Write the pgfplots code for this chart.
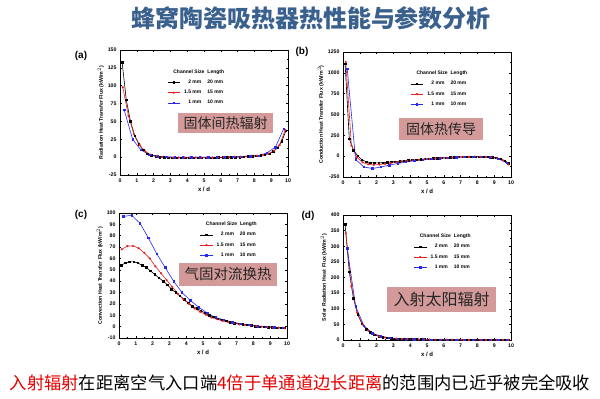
\documentclass[border=0pt]{standalone}
\usepackage{fontspec}
\setmainfont{Liberation Sans}
\newfontfamily\cjk{Noto Sans CJK SC}
\usepackage{pgfplots}
\pgfplotsset{compat=1.18}
\definecolor{titleblue}{RGB}{58,96,142}
\definecolor{boxpink}{RGB}{212,154,154}
\definecolor{sred}{RGB}{235,30,30}
\definecolor{sblue}{RGB}{40,40,245}
\definecolor{txtred}{RGB}{230,0,0}
\pgfplotsset{
  panel/.style={
    scale only axis, width=168pt, height=125pt,
    xmin=0, xmax=10, xtick={0,...,10},
    minor x tick num=1, minor y tick num=1,
    tick align=inside, major tick length=2.2pt, minor tick length=1.2pt,
    axis line style={line width=0.7pt},
    every tick/.style={black, line width=0.5pt},
    tick label style={font=\fontsize{5.2}{6}\selectfont\bfseries},
    /pgf/number format/assume math mode=true,
    /pgf/number format/1000 sep={},
    xlabel={x / d},
    xlabel style={font=\fontsize{6}{6}\selectfont\bfseries, yshift=2pt},
    ylabel style={font=\fontsize{5.2}{5.5}\selectfont\bfseries, yshift=-3pt},
    legend style={draw=none, fill=none, anchor=north west,
      font=\fontsize{5}{5.5}\selectfont\bfseries, row sep=1.2pt, inner sep=0pt},
    legend cell align=left,
    legend image code/.code={\draw[mark repeat=2,mark phase=2] plot coordinates {(0cm,0cm)(0.22cm,0cm)(0.44cm,0cm)};},
  },
  sb/.style={black, line width=0.6pt, mark=square*, mark size=0.75pt},
  sr/.style={sred, line width=0.6pt, mark=*, mark size=0.75pt},
  su/.style={sblue, line width=0.6pt, mark=square*, mark size=0.75pt},
}
\newcommand{\hdr}{\addlegendimage{empty legend}\addlegendentry{\hspace{-9pt}Channel Size\hspace{3pt}Length}}
\newcommand{\ent}[2]{\makebox[19pt][r]{#1}\hspace{6pt}#2}
\begin{document}
\begin{tikzpicture}
\path[use as bounding box] (0,0) rectangle (600pt,-399pt);
\node[font=\cjk\bfseries\fontsize{24}{24}\selectfont, text=titleblue] at (311pt,-18pt) {蜂窝陶瓷吸热器热性能与参数分析};

% (a)
\begin{axis}[panel, at={(120pt,-50pt)}, anchor=north west,
  ymin=-25, ymax=150, ytick={-25,0,...,150},
  ylabel={Radiation Heat Transfer Flux (kW/m$^2$)},
  legend style={at={(0.28,0.86)}}]
\hdr
\addplot[sb] coordinates {(0.125,133)(0.375,80)(0.625,50)(0.875,30)(1.125,18)(1.375,10)(1.625,5)(1.875,2.5)(2.125,1)(2.375,0)(2.625,-0.5)(2.875,-1)(3.125,-1)(3.375,-1)(3.625,-1)(3.875,-1)(4.125,-1)(4.375,-1)(4.625,-1)(4.875,-1)(5.125,-1)(5.375,-1)(5.625,-1)(5.875,-0.5)(6.125,-0.5)(6.375,-0.5)(6.625,0)(6.875,0)(7.125,0)(7.375,0.5)(7.625,1)(7.875,1.5)(8.125,2)(8.375,2.5)(8.625,3.5)(8.875,5)(9.125,8)(9.375,13)(9.625,22)(9.875,37)};
\addlegendentry{\ent{2 mm}{20 mm}}
\addplot[sr] coordinates {(0.167,98)(0.5,58)(0.833,32)(1.167,17)(1.5,8)(1.833,3.5)(2.167,1.5)(2.5,0.5)(2.833,0)(3.167,-0.5)(3.5,-0.5)(3.833,-0.5)(4.167,-0.5)(4.5,-0.5)(4.833,-0.5)(5.167,-0.5)(5.5,-0.5)(5.833,-0.5)(6.167,0)(6.5,0)(6.833,0.5)(7.167,0.5)(7.5,1)(7.833,1.5)(8.167,2)(8.5,3)(8.833,5)(9.167,9)(9.5,17)(9.833,38)};
\addlegendentry{\ent{1.5 mm}{15 mm}}
\addplot[su] coordinates {(0.25,66)(0.75,25)(1.25,10)(1.75,3.5)(2.25,1)(2.75,0.5)(3.25,0)(3.75,0)(4.25,0)(4.75,0)(5.25,0)(5.75,0)(6.25,0)(6.75,0.5)(7.25,0.5)(7.75,1)(8.25,2)(8.75,6)(9.25,14)(9.75,40)};
\addlegendentry{\ent{1 mm}{10 mm}}
\end{axis}

% (b)
\begin{axis}[panel, at={(343pt,-52pt)}, anchor=north west,
  ymin=-250, ymax=1250, ytick={-250,0,...,1250},
  ylabel={Conduction Heat Transfer Flux (kW/m$^2$)},
  legend style={at={(0.40,0.865)}}]
\hdr
\addplot[sb] coordinates {(0.125,1110)(0.375,210)(0.625,70)(0.875,5)(1.125,-45)(1.375,-65)(1.625,-78)(1.875,-82)(2.125,-80)(2.375,-78)(2.625,-74)(2.875,-70)(3.125,-65)(3.375,-60)(3.625,-55)(3.875,-50)(4.125,-46)(4.375,-42)(4.625,-38)(4.875,-34)(5.125,-30)(5.375,-27)(5.625,-24)(5.875,-21)(6.125,-18)(6.375,-15)(6.625,-12)(6.875,-10)(7.125,-8)(7.375,-7)(7.625,-6)(7.875,-6)(8.125,-6)(8.375,-7)(8.625,-9)(8.875,-13)(9.125,-20)(9.375,-32)(9.625,-55)(9.875,-85)};
\addlegendentry{\ent{2 mm}{20 mm}}
\addplot[sr] coordinates {(0.167,1130)(0.5,130)(0.833,-15)(1.167,-75)(1.5,-98)(1.833,-105)(2.167,-100)(2.5,-92)(2.833,-83)(3.167,-74)(3.5,-65)(3.833,-57)(4.167,-50)(4.5,-44)(4.833,-38)(5.167,-33)(5.5,-28)(5.833,-23)(6.167,-19)(6.5,-15)(6.833,-12)(7.167,-9)(7.5,-8)(7.833,-7)(8.167,-7)(8.5,-9)(8.833,-14)(9.167,-25)(9.5,-48)(9.833,-100)};
\addlegendentry{\ent{1.5 mm}{15 mm}}
\addplot[su] coordinates {(0.25,1050)(0.75,-40)(1.25,-130)(1.75,-148)(2.25,-130)(2.75,-108)(3.25,-88)(3.75,-70)(4.25,-55)(4.75,-44)(5.25,-34)(5.75,-26)(6.25,-19)(6.75,-13)(7.25,-9)(7.75,-7)(8.25,-7)(8.75,-12)(9.25,-30)(9.75,-80)};
\addlegendentry{\ent{1 mm}{10 mm}}
\end{axis}

% (c)
\begin{axis}[panel, at={(119pt,-213pt)}, anchor=north west,
  ymin=-10, ymax=100, ytick={-10,0,...,100}, minor y tick num=0,
  ylabel={Convection Heat Transfer Flux (kW/m$^2$)},
  legend style={at={(0.48,0.945)}}]
\hdr
\addplot[sb] coordinates {(0.125,54)(0.375,56)(0.625,57)(0.875,57)(1.125,56)(1.375,54)(1.625,52)(1.875,49)(2.125,46)(2.375,43)(2.625,40)(2.875,37)(3.125,33)(3.375,30)(3.625,27)(3.875,24)(4.125,21)(4.375,18)(4.625,16)(4.875,14)(5.125,12)(5.375,10)(5.625,8.5)(5.875,7)(6.125,6)(6.375,5)(6.625,4)(6.875,3)(7.125,2.5)(7.375,2)(7.625,1.5)(7.875,1)(8.125,0.5)(8.375,0)(8.625,0)(8.875,-0.5)(9.125,-0.5)(9.375,-1)(9.625,-1)(9.875,-1)};
\addlegendentry{\ent{2 mm}{20 mm}}
\addplot[sr] coordinates {(0.167,68)(0.5,71)(0.833,71)(1.167,69)(1.5,65)(1.833,60)(2.167,53)(2.5,47)(2.833,41)(3.167,35)(3.5,29)(3.833,24)(4.167,20)(4.5,16)(4.833,13)(5.167,10.5)(5.5,8)(5.833,6.5)(6.167,5)(6.5,4)(6.833,3)(7.167,2)(7.5,1.5)(7.833,1)(8.167,0.5)(8.5,0)(8.833,-0.5)(9.167,-1)(9.5,-1)(9.833,-1.5)};
\addlegendentry{\ent{1.5 mm}{15 mm}}
\addplot[su] coordinates {(0.25,97)(0.75,98)(1.25,91)(1.75,78)(2.25,64)(2.75,52)(3.25,40)(3.75,30)(4.25,23)(4.75,17)(5.25,12)(5.75,8)(6.25,6)(6.75,4)(7.25,2.5)(7.75,1.5)(8.25,0.5)(8.75,0)(9.25,-0.5)(9.75,-1)};
\addlegendentry{\ent{1 mm}{10 mm}}
\end{axis}

% (d)
\begin{axis}[panel, at={(343pt,-215pt)}, anchor=north west,
  ymin=0, ymax=400, ytick={0,50,...,400},
  ylabel={Solar Radiation Heat \ Flux (kW/m$^2$)},
  legend style={at={(0.42,0.865)}}]
\hdr
\addplot[sb] coordinates {(0.125,370)(0.375,218)(0.625,133)(0.875,82)(1.125,52)(1.375,35)(1.625,25)(1.875,17)(2.125,12)(2.375,9)(2.625,7)(2.875,5.5)(3.125,4.5)(3.375,3.5)(3.625,3)(3.875,2.5)(4.125,2)(4.375,2)(4.625,1.5)(4.875,1.5)(5.125,1)(5.375,1)(5.625,1)(5.875,1)(6.125,1)(6.375,0.5)(6.625,0.5)(6.875,0.5)(7.125,0.5)(7.375,0.5)(7.625,0.5)(7.875,0.5)(8.125,0.5)(8.375,0.5)(8.625,0.5)(8.875,0.5)(9.125,0.5)(9.375,0.5)(9.625,0.5)(9.875,0.5)};
\addlegendentry{\ent{2 mm}{20 mm}}
\addplot[sr] coordinates {(0.167,342)(0.5,172)(0.833,88)(1.167,50)(1.5,30)(1.833,19)(2.167,12)(2.5,8)(2.833,6)(3.167,4.5)(3.5,3.5)(3.833,3)(4.167,2.5)(4.5,2)(4.833,1.5)(5.167,1.5)(5.5,1)(5.833,1)(6.167,1)(6.5,1)(6.833,0.5)(7.167,0.5)(7.5,0.5)(7.833,0.5)(8.167,0.5)(8.5,0.5)(8.833,0.5)(9.167,0.5)(9.5,0.5)(9.833,0.5)};
\addlegendentry{\ent{1.5 mm}{15 mm}}
\addplot[su] coordinates {(0.25,293)(0.75,108)(1.25,45)(1.75,22)(2.25,12)(2.75,7)(3.25,4.5)(3.75,3)(4.25,2)(4.75,1.5)(5.25,1)(5.75,1)(6.25,0.5)(6.75,0.5)(7.25,0.5)(7.75,0.5)(8.25,0.5)(8.75,0.5)(9.25,0.5)(9.75,0.5)};
\addlegendentry{\ent{1 mm}{10 mm}}
\end{axis}

% panel letters
\node[font=\bfseries\fontsize{10}{10}\selectfont] at (81pt,-56pt) {(a)};
\node[font=\bfseries\fontsize{10}{10}\selectfont] at (302pt,-52pt) {(b)};
\node[font=\bfseries\fontsize{10}{10}\selectfont] at (81pt,-215pt) {(c)};
\node[font=\bfseries\fontsize{10}{10}\selectfont] at (308pt,-216pt) {(d)};

% pink boxes
\node[fill=boxpink, minimum width=95pt, minimum height=20pt, inner sep=0pt, text=black!85, font=\cjk\fontsize{14}{14}\selectfont] at (225.5pt,-123pt) {固体间热辐射};
\node[fill=boxpink, minimum width=84pt, minimum height=22pt, inner sep=0pt, text=black!85, font=\cjk\fontsize{14}{14}\selectfont] at (441pt,-129pt) {固体热传导};
\node[fill=boxpink, minimum width=98pt, minimum height=23pt, inner sep=0pt, text=black!85, font=\cjk\fontsize{14.5}{14.5}\selectfont] at (228pt,-274.5pt) {气固对流换热};
\node[fill=boxpink, minimum width=109pt, minimum height=25pt, inner sep=0pt, text=black!85, font=\cjk\fontsize{16}{16}\selectfont] at (441.5pt,-299.5pt) {入射太阳辐射};

% bottom sentence
\node[font=\cjk\fontsize{17.3}{17.3}\selectfont, inner sep=0pt] at (300pt,-383pt) {\textcolor{txtred}{入射辐射}在距离空气入口端\textcolor{txtred}{4倍于单通道边长距离}的范围内已近乎被完全吸收};
\end{tikzpicture}
\end{document}
